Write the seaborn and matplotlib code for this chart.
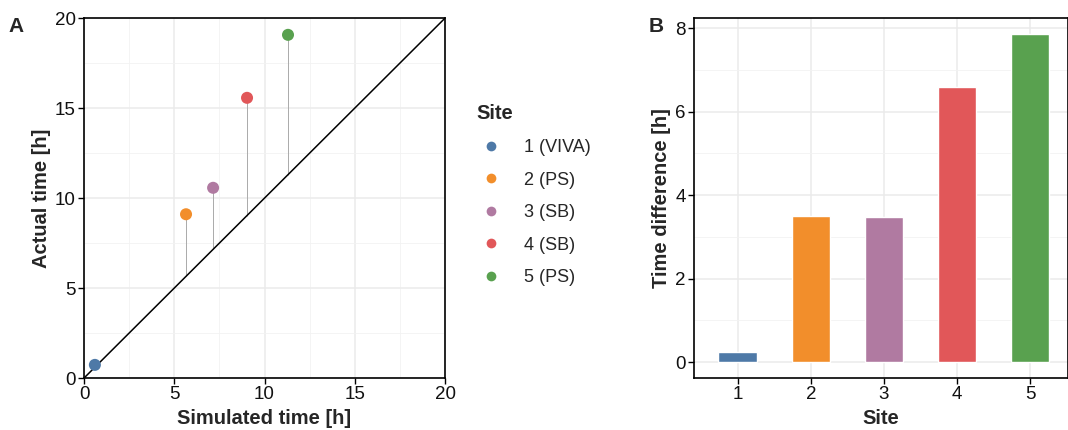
import matplotlib
matplotlib.use('Agg')
import matplotlib.pyplot as plt
from matplotlib.ticker import MultipleLocator
from matplotlib.lines import Line2D
import pandas as pd
import seaborn as sns

# data
sites = ['1', '2', '3', '4', '5']
site_labels = ['1 (VIVA)', '2 (PS)', '3 (SB)', '4 (SB)', '5 (PS)']
simulated = [0.6, 5.65, 7.15, 9.03, 11.3]
actual = [0.73, 9.1, 10.57, 15.57, 19.07]
difference = [0.24, 3.5, 3.47, 6.6, 7.85]

colors = ['#4E79A7', '#F28E2B', '#B07AA1', '#E15759', '#59A14F']

sns.set_theme(style='white')
plt.rcParams['font.family'] = ['Liberation Sans', 'DejaVu Sans']

df = pd.DataFrame({'site': site_labels, 'sim': simulated, 'act': actual})
dfb = pd.DataFrame({'site': sites, 'diff': difference})

fig = plt.figure(figsize=(10.68, 4.3), dpi=100)
axA = fig.add_axes([0.0787, 0.1209, 0.338, 0.837])
axB = fig.add_axes([0.6498, 0.1209, 0.3502, 0.837])

grid_major = dict(color='#EBEBEB', linewidth=1.1)
grid_minor = dict(color='#F2F2F2', linewidth=0.6)


def style_axes(ax):
    for s in ax.spines.values():
        s.set_color('black')
        s.set_linewidth(1.2)
    ax.tick_params(axis='both', which='major', direction='out', length=4,
                   width=1.0, color='black', labelsize=13.5, labelcolor='#111111',
                   bottom=True, left=True, pad=2)
    ax.tick_params(which='minor', length=0)
    ax.set_axisbelow(True)


# panel A
for i in range(len(sites)):
    axA.vlines(simulated[i], simulated[i], actual[i], color='#AAAAAA', linewidth=0.7, zorder=1)
axA.plot([0, 20], [0, 20], color='black', linewidth=1.1, zorder=2)
sns.scatterplot(data=df, x='sim', y='act', hue='site', palette=colors, s=75,
                edgecolor='none', ax=axA, legend=False, zorder=3)
axA.set_xlim(0, 20)
axA.set_ylim(0, 20)
axA.xaxis.set_major_locator(MultipleLocator(5))
axA.yaxis.set_major_locator(MultipleLocator(5))
axA.xaxis.set_minor_locator(MultipleLocator(2.5))
axA.yaxis.set_minor_locator(MultipleLocator(2.5))
axA.grid(which='major', **grid_major)
axA.grid(which='minor', **grid_minor)
axA.set_xlabel('Simulated time [h]', fontsize=14.5, fontweight='bold', labelpad=4)
axA.set_ylabel('Actual time [h]', fontsize=14.5, fontweight='bold', labelpad=3)
style_axes(axA)

# panel B
sns.barplot(data=dfb, x='site', y='diff', hue='site', palette=colors, width=0.53,
            ax=axB, legend=False, saturation=1, errorbar=None)
axB.set_xlim(-0.6, 4.52)
axB.set_ylim(-0.38, 8.24)
axB.yaxis.set_major_locator(MultipleLocator(2))
axB.yaxis.set_minor_locator(MultipleLocator(1))
axB.grid(axis='y', which='major', **grid_major)
axB.grid(axis='y', which='minor', **grid_minor)
axB.grid(axis='x', which='major', **grid_major)
axB.set_xlabel('Site', fontsize=14.5, fontweight='bold', labelpad=4)
axB.set_ylabel('Time difference [h]', fontsize=14.5, fontweight='bold', labelpad=3)
style_axes(axB)

# legend
handles = [Line2D([], [], marker='o', linestyle='none', markersize=7,
                  markerfacecolor=c, markeredgecolor='none') for c in colors]
leg = fig.legend(handles, site_labels, title='Site', loc='upper left',
                 bbox_to_anchor=(0.438, 0.778), frameon=False, fontsize=13,
                 title_fontproperties={'weight': 'bold', 'size': 14.5},
                 labelspacing=0.86, handletextpad=1.0, handlelength=1.6,
                 borderpad=0)
leg._legend_box.align = 'left'

fig.text(0.008, 0.925, 'A', fontsize=15, fontweight='bold')
fig.text(0.607, 0.925, 'B', fontsize=15, fontweight='bold')

fig.savefig('out.png', dpi=100)
